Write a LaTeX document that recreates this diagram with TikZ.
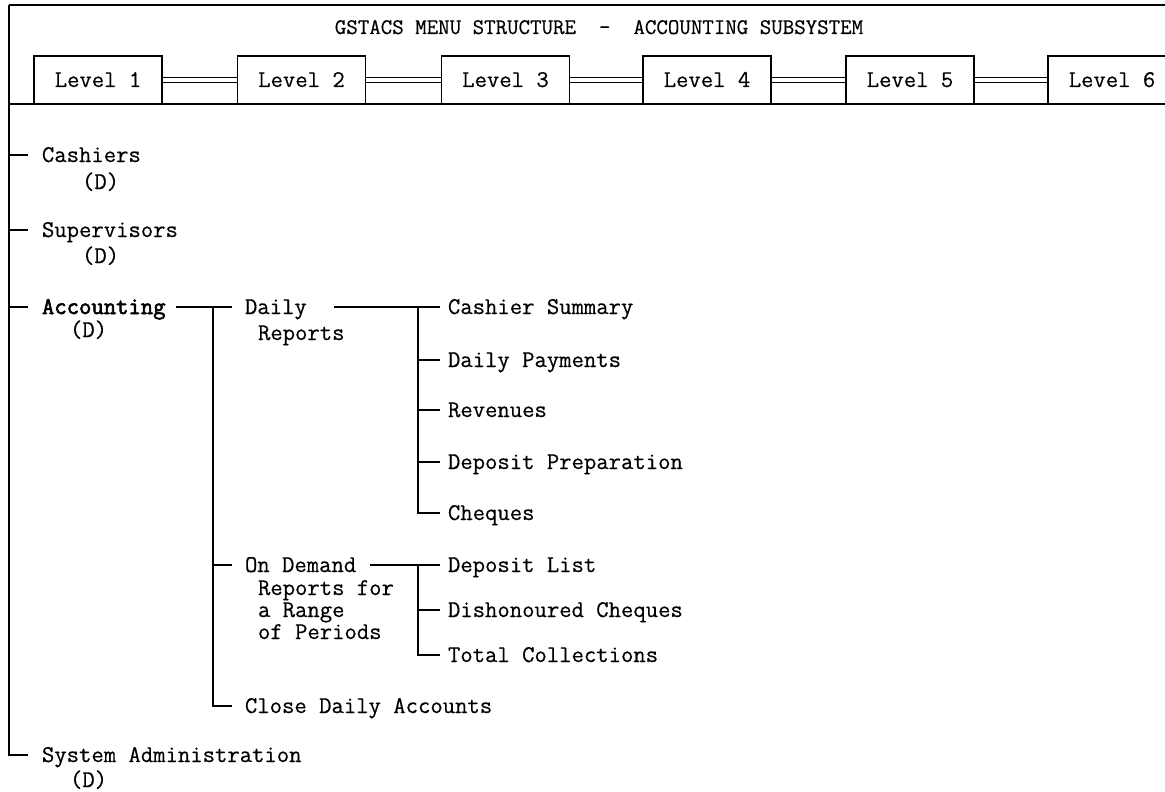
\documentclass[tikz,border=0pt]{standalone}
\usepackage{fontspec}
\newfontfamily\typer{Latin Modern Mono}[FakeBold=0.45]
\newfontfamily\typerheavy{Latin Modern Mono}[FakeBold=2.4]
\begin{document}
\begin{tikzpicture}[x=1pt,y=-1pt,
  every node/.style={inner sep=0pt, outer sep=0pt,
    font=\typer\fontsize{24}{27}\selectfont,
    text height=14pt, text depth=0pt},
  lbl/.style={anchor=west},
  heading/.style={font=\typer\fontsize{22.3}{25}\selectfont},
  strong/.style={font=\typerheavy\fontsize{24}{27}\selectfont},
  levelbox/.style={draw, line width=1.3pt, minimum width=128pt, minimum height=48pt},
  rail/.style={line width=1.1pt},
  tree/.style={line width=1.5pt},
  frame/.style={line width=1.3pt}]
\useasboundingbox (0,0) rectangle (1165,792);
\fill[white] (0,0) rectangle (1165,792);

% ---- header band ----
\coordinate (tl) at (9,5);
\coordinate (tr) at (1170,5);
\coordinate (hl) at (9,104);
\coordinate (hr) at (1170,104);
\draw[frame] (tr) -- (tl);
\node[heading] (title) at (599,27) {GSTACS MENU STRUCTURE\ \ -\ \ ACCOUNTING SUBSYSTEM};

\node[levelbox] (L1) at (98,80)    {Level 1};
\node[levelbox] (L2) at (301.5,80) {Level 2};
\node[levelbox] (L3) at (505.5,80) {Level 3};
\node[levelbox] (L4) at (707,80)   {Level 4};
\node[levelbox] (L5) at (910,80)   {Level 5};
\node[levelbox] (L6) at (1112,80)  {Level 6};
% double rails joining the level boxes
\foreach \a/\b in {L1/L2, L2/L3, L3/L4, L4/L5, L5/L6}{
  \draw[rail] ([yshift=2.6pt]\a.east) -- ([yshift=2.6pt]\b.west);
  \draw[rail] ([yshift=-2.6pt]\a.east) -- ([yshift=-2.6pt]\b.west);
}
\draw[frame] (hl) -- (hr);

% ---- level 1 items ----
\node[lbl] (cash)  at (42,155) {Cashiers};
\node[lbl] (cashD) at (82,182) {(D)};
\node[lbl] (sup)   at (42,230) {Supervisors};
\node[lbl] (supD)  at (82,256) {(D)};
\node[lbl, strong] (acc) at (42,307) {Accounting};
\node[lbl] (accD)  at (70,330) {(D)};
\node[lbl] (sys)   at (42,755) {System Administration};
\node[lbl] (sysD)  at (70,780) {(D)};

\draw[tree] (tl) |- ([xshift=-14pt]sys.west);
\draw[tree] (tl |- cash.west) -- ([xshift=-14pt]cash.west);
\draw[tree] (tl |- sup.west)  -- ([xshift=-14pt]sup.west);
\draw[tree] (tl |- acc.west)  -- ([xshift=-14pt]acc.west);

% ---- level 2 items ----
\node[lbl] (daily)  at (245,307) {Daily};
\node[lbl] (dailyB) at (258,333) {Reports};
\node[lbl] (ondem)  at (245,565) {On Demand};
\node[lbl] (ondemB) at (258,588) {Reports for};
\node[lbl] (ondemC) at (258,610) {a Range};
\node[lbl] (ondemD) at (258,632) {of Periods};
\node[lbl] (close)  at (245,706) {Close Daily Accounts};

\coordinate (aj) at (213,307);
\draw[tree] ([xshift=10pt]acc.east) -- ([xshift=-13pt]daily.west);
\draw[tree] (aj) |- ([xshift=-13pt]close.west);
\draw[tree] (aj |- ondem.west) -- ([xshift=-13pt]ondem.west);

% ---- level 3 items ----
\node[lbl] (cs)    at (448,307) {Cashier Summary};
\node[lbl] (dp)    at (448,360) {Daily Payments};
\node[lbl] (rev)   at (448,410) {Revenues};
\node[lbl] (dprep) at (448,462) {Deposit Preparation};
\node[lbl] (chq)   at (448,513) {Cheques};

\coordinate (dj) at (418,307);
\draw[tree] ([xshift=27pt]daily.east) -- ([xshift=-8pt]cs.west);
\draw[tree] (dj) |- ([xshift=-8pt]chq.west);
\draw[tree] (dj |- dp.west)    -- ([xshift=-8pt]dp.west);
\draw[tree] (dj |- rev.west)   -- ([xshift=-8pt]rev.west);
\draw[tree] (dj |- dprep.west) -- ([xshift=-8pt]dprep.west);

\node[lbl] (dl) at (448,565) {Deposit List};
\node[lbl] (dc) at (448,610) {Dishonoured Cheques};
\node[lbl] (tc) at (448,655) {Total Collections};

\coordinate (oj) at (418,565);
\draw[tree] ([xshift=14pt]ondem.east) -- ([xshift=-8pt]dl.west);
\draw[tree] (oj) |- ([xshift=-8pt]tc.west);
\draw[tree] (oj |- dc.west) -- ([xshift=-8pt]dc.west);
\end{tikzpicture}
\end{document}
